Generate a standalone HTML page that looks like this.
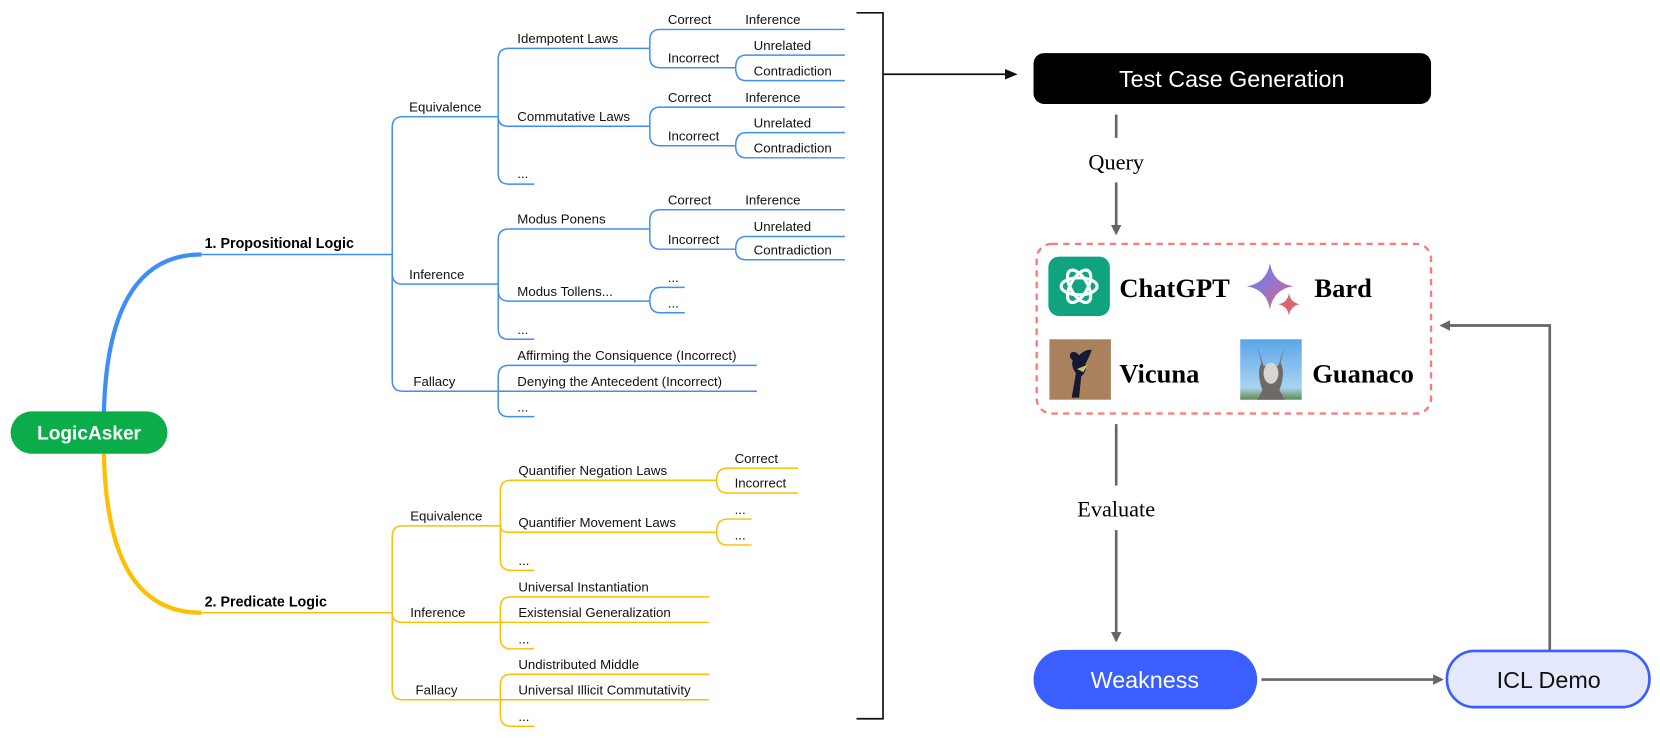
<!DOCTYPE html>
<html><head><meta charset="utf-8"><style>
html,body{margin:0;padding:0;background:#fff;}
svg{display:block;}
text{font-family:"Liberation Sans",sans-serif;}
.t{font-size:12.5px;fill:#111;}
.b{fill:none;stroke:#3d8ef8;stroke-width:1.4;}
.y{fill:none;stroke:#fdbf00;stroke-width:1.4;}
.s{font-family:"Liberation Serif",serif;}
</style></head><body>
<svg width="1660" height="739" viewBox="0 0 1566 697" xmlns="http://www.w3.org/2000/svg">
<defs>
<marker id="ah" markerWidth="10" markerHeight="10" refX="8" refY="5" orient="auto" markerUnits="userSpaceOnUse"><path d="M0,0 L10,5 L0,10 z" fill="#666"/></marker>
<marker id="ak" markerWidth="12" markerHeight="10" refX="10" refY="5" orient="auto" markerUnits="userSpaceOnUse"><path d="M0,0 L12,5 L0,10 z" fill="#111"/></marker>
<linearGradient id="bg" x1="0" y1="0" x2="1" y2="1"><stop offset="0" stop-color="#4b8df8"/><stop offset="0.5" stop-color="#9b72cb"/><stop offset="1" stop-color="#d96570"/></linearGradient>
<linearGradient id="sky" x1="0" y1="0" x2="0" y2="1"><stop offset="0" stop-color="#5aa6ea"/><stop offset="0.8" stop-color="#a9d3f2"/><stop offset="1" stop-color="#5e8a4a"/></linearGradient>
</defs>

<!-- main curves -->
<path d="M98,390 C100,300 125,240 190,240" fill="none" stroke="#3d8ef8" stroke-width="4"/>
<path d="M188,240 L370,240" class="b"/>
<path d="M98,428 C100,520 125,578 190,578" fill="none" stroke="#fdbf00" stroke-width="4"/>
<path d="M188,578 L370,578" class="y"/>
<rect x="10" y="388" width="148" height="40" rx="20" fill="#0bad4b"/>
<text x="84" y="414.5" text-anchor="middle" font-size="18" font-weight="bold" fill="#fff">LogicAsker</text>
<text x="193" y="234" font-size="13.5" font-weight="bold">1. Propositional Logic</text>
<text x="193" y="572" font-size="13.5" font-weight="bold">2. Predicate Logic</text>

<!-- blue tree -->
<g class="b">
<path d="M370,240 L370,120 Q370,110 380,110 L470,110"/>
<path d="M370,240 L370,258 Q370,268 380,268 L470,268"/>
<path d="M370,240 L370,359 Q370,369 380,369 L470,369"/>
<path d="M470,110 L470,55.6 Q470,45.6 480,45.6 L613,45.6"/>
<path d="M470,110 Q470,119 479,119 L613,119"/>
<path d="M470,110 L470,163.6 Q470,173.6 480,173.6 L504,173.6"/>
<path d="M613,45.6 L613,37.7 Q613,27.7 623,27.7 L797,27.7"/>
<path d="M613,45.6 L613,53.8 Q613,63.8 623,63.8 L694,63.8"/>
<path d="M694,63.8 Q694,51.9 704,51.9 L797,51.9"/>
<path d="M694,63.8 Q694,76 704,76 L797,76"/>
<path d="M613,119 L613,111 Q613,101 623,101 L797,101"/>
<path d="M613,119 L613,127.4 Q613,137.4 623,137.4 L694,137.4"/>
<path d="M694,137.4 Q694,125 704,125 L797,125"/>
<path d="M694,137.4 Q694,148.8 704,148.8 L797,148.8"/>
<path d="M470,268 L470,226 Q470,216 480,216 L613,216"/>
<path d="M470,268 L470,274 Q470,284 480,284 L613,284"/>
<path d="M470,268 L470,310 Q470,320 480,320 L504,320"/>
<path d="M613,216 L613,207.8 Q613,197.8 623,197.8 L797,197.8"/>
<path d="M613,216 L613,225 Q613,235 623,235 L694,235"/>
<path d="M694,235 Q694,223 704,223 L797,223"/>
<path d="M694,235 Q694,245 704,245 L797,245"/>
<path d="M613,284 Q613,271 623,271 L646,271"/>
<path d="M613,284 Q613,295 623,295 L646,295"/>
<path d="M470,369 L470,354.6 Q470,344.6 480,344.6 L714,344.6"/>
<path d="M470,369 L714,369"/>
<path d="M470,369 L470,383 Q470,393 480,393 L504,393"/>
</g>
<g class="t">
<text x="386" y="105">Equivalence</text><text x="386" y="263">Inference</text><text x="390" y="364">Fallacy</text>
<text x="488" y="40.6">Idempotent Laws</text><text x="488" y="114">Commutative Laws</text><text x="488" y="168">...</text>
<text x="630" y="22.7">Correct</text><text x="703" y="22.7">Inference</text><text x="630" y="58.8">Incorrect</text><text x="711" y="46.9">Unrelated</text><text x="711" y="71">Contradiction</text>
<text x="630" y="96">Correct</text><text x="703" y="96">Inference</text><text x="630" y="132.4">Incorrect</text><text x="711" y="120">Unrelated</text><text x="711" y="143.8">Contradiction</text>
<text x="488" y="211">Modus Ponens</text>
<text x="630" y="192.8">Correct</text><text x="703" y="192.8">Inference</text><text x="630" y="230">Incorrect</text><text x="711" y="218">Unrelated</text><text x="711" y="240">Contradiction</text>
<text x="488" y="279">Modus Tollens...</text><text x="630" y="266">...</text><text x="630" y="290">...</text><text x="488" y="315">...</text>
<text x="488" y="339.6">Affirming the Consiquence (Incorrect)</text><text x="488" y="364">Denying the Antecedent (Incorrect)</text><text x="488" y="388">...</text>
</g>

<!-- yellow tree -->
<g class="y">
<path d="M370,578 L370,506 Q370,496 380,496 L472,496"/>
<path d="M370,578 Q370,587 379,587 L472,587"/>
<path d="M370,578 L370,650 Q370,660 380,660 L472,660"/>
<path d="M472,496 L472,463 Q472,453 482,453 L676,453"/>
<path d="M472,496 Q472,502 480,502 L676,502"/>
<path d="M472,496 L472,528 Q472,538 482,538 L504,538"/>
<path d="M676,453 Q676,441.5 686,441.5 L753,441.5"/>
<path d="M676,453 Q676,465 686,465 L753,465"/>
<path d="M676,502 Q676,489.6 686,489.6 L709,489.6"/>
<path d="M676,502 Q676,514 686,514 L709,514"/>
<path d="M472,587 L472,573 Q472,563 482,563 L669,563"/>
<path d="M472,587 L669,587"/>
<path d="M472,587 L472,602 Q472,612 482,612 L504,612"/>
<path d="M472,660 L472,646 Q472,636 482,636 L669,636"/>
<path d="M472,660 L669,660"/>
<path d="M472,660 L472,675 Q472,685 482,685 L504,685"/>
</g>
<g class="t">
<text x="387" y="491">Equivalence</text><text x="387" y="582">Inference</text><text x="392" y="655">Fallacy</text>
<text x="489" y="448">Quantifier Negation Laws</text><text x="489" y="497">Quantifier Movement Laws</text><text x="489" y="533">...</text>
<text x="693" y="436.5">Correct</text><text x="693" y="460">Incorrect</text><text x="693" y="484.6">...</text><text x="693" y="509">...</text>
<text x="489" y="558">Universal Instantiation</text><text x="489" y="582">Existensial Generalization</text><text x="489" y="607">...</text>
<text x="489" y="631">Undistributed Middle</text><text x="489" y="655">Universal Illicit Commutativity</text><text x="489" y="680">...</text>
</g>

<!-- bracket -->
<path d="M808,12 L833,12 L833,678 L808,678" fill="none" stroke="#111" stroke-width="1.6"/>
<line x1="833" y1="70" x2="958" y2="70" stroke="#111" stroke-width="1.6" marker-end="url(#ak)"/>

<!-- right flow -->
<rect x="975" y="50" width="375" height="48" rx="10" fill="#000"/>
<text x="1162" y="82" text-anchor="middle" font-size="22" fill="#fff">Test Case Generation</text>
<line x1="1053" y1="108" x2="1053" y2="130" stroke="#666" stroke-width="2.5"/>
<text x="1053" y="160" text-anchor="middle" class="s" font-size="21">Query</text>
<line x1="1053" y1="172" x2="1053" y2="220" stroke="#666" stroke-width="2.5" marker-end="url(#ah)"/>

<rect x="978" y="230" width="372" height="160" rx="14" fill="none" stroke="#f77" stroke-width="2.2" stroke-dasharray="6,5"/>
<!-- ChatGPT -->
<rect x="989" y="242" width="58" height="56" rx="10" fill="#10a37f"/>
<g fill="none" stroke="#fff" stroke-width="3" transform="translate(1018,270)">
<ellipse rx="17" ry="8" transform="rotate(0)"/><ellipse rx="17" ry="8" transform="rotate(60)"/><ellipse rx="17" ry="8" transform="rotate(120)"/>
</g>
<text x="1056" y="280" class="s" font-size="25" font-weight="bold">ChatGPT</text>
<!-- Bard -->
<path d="M1198,248 Q1201,267 1220,270 Q1201,273 1198,292 Q1195,273 1176,270 Q1195,267 1198,248 z" fill="url(#bg)"/>
<path d="M1216,276 Q1217,285 1226,287 Q1217,289 1216,298 Q1215,289 1206,287 Q1215,285 1216,276 z" fill="#d96570"/>
<text x="1240" y="280" class="s" font-size="25" font-weight="bold">Bard</text>
<!-- Vicuna -->
<rect x="990" y="320" width="58" height="57" fill="#a9825d"/>
<path d="M1010,333 Q1014,330 1018,335 Q1024,329 1030,330 Q1027,338 1024,343 Q1026,350 1020,355 L1018,375 L1011,375 L1015,352 Q1010,345 1012,340 Q1008,337 1010,333 z" fill="#141a33"/>
<path d="M1016,348 L1026,344 L1022,351 z" fill="#c8c36a"/>
<text x="1056" y="361" class="s" font-size="25" font-weight="bold">Vicuna</text>
<!-- Guanaco -->
<rect x="1170" y="320" width="58" height="57" fill="url(#sky)"/>
<path d="M1186,326 L1192,345 L1206,345 L1212,326 L1208,342 Q1213,352 1207,368 L1212,377 L1186,377 L1191,368 Q1185,352 1190,342 z" fill="#6f6a66"/>
<ellipse cx="1199" cy="352" rx="7" ry="10" fill="#d8d4cf"/>
<text x="1238" y="361" class="s" font-size="25" font-weight="bold">Guanaco</text>

<line x1="1053" y1="400" x2="1053" y2="458" stroke="#666" stroke-width="2.5"/>
<text x="1053" y="487" text-anchor="middle" class="s" font-size="21">Evaluate</text>
<line x1="1053" y1="500" x2="1053" y2="604" stroke="#666" stroke-width="2.5" marker-end="url(#ah)"/>

<rect x="975" y="613" width="211" height="56" rx="28" fill="#3a5eff"/>
<text x="1080" y="649" text-anchor="middle" font-size="22" fill="#fff">Weakness</text>
<line x1="1190" y1="641" x2="1360" y2="641" stroke="#666" stroke-width="2.5" marker-end="url(#ah)"/>
<rect x="1365" y="614" width="191" height="53" rx="26" fill="#e5e9fd" stroke="#3a5eff" stroke-width="2.5"/>
<text x="1461" y="649" text-anchor="middle" font-size="22" fill="#111">ICL Demo</text>
<path d="M1462,613 L1462,307 L1360,307" fill="none" stroke="#666" stroke-width="2.5" marker-end="url(#ah)"/>
</svg>
</body></html>
